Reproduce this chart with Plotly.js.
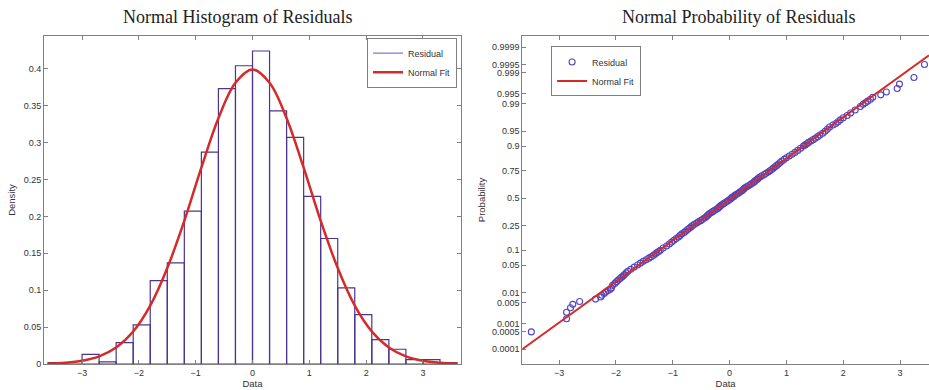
<!DOCTYPE html>
<html>
<head>
<meta charset="utf-8">
<script src="https://cdn.plot.ly/plotly-3.0.1.min.js"></script>
<style>
html,body{margin:0;padding:0;background:#fff;overflow:hidden;}
#chart{width:929px;height:390px;}
</style>
</head>
<body>
<div id="chart"></div>
<script>
// ---- Left panel: histogram of residuals (bin width 0.3) ----
const binCenters = [-3.45,-3.15,-2.85,-2.55,-2.25,-1.95,-1.65,-1.35,-1.05,-0.75,-0.45,-0.15,
                     0.15, 0.45, 0.75, 1.05, 1.35, 1.65, 1.95, 2.25, 2.55, 2.85, 3.15, 3.45];
const density = [0.002,0,0.013,0.003,0.029,0.053,0.113,0.137,0.207,0.287,0.373,0.404,
                 0.424,0.343,0.307,0.227,0.170,0.103,0.067,0.033,0.020,0.006,0.006,0.002];

// Normal fit curve
const curveX = [-3.6,-3.3,-3.0,-2.7,-2.4,-2.1,-1.8,-1.5,-1.2,-0.9,-0.6,-0.3,0,
                 0.3,0.6,0.9,1.2,1.5,1.8,2.1,2.4,2.7,3.0,3.3,3.6];
const curveY = [0.0006,0.0017,0.0044,0.0104,0.0224,0.044,0.079,0.130,0.194,0.266,0.333,0.381,0.399,
                0.381,0.333,0.266,0.194,0.130,0.079,0.044,0.0224,0.0104,0.0044,0.0017,0.0006];

// ---- Right panel: normal probability plot ----
const probX = [-3.49,-2.87,-2.87,-2.80,-2.76,-2.64,-2.36,-2.27,-2.25,-2.21,-2.18,-2.14,-2.10,-2.08,
  -2.06,-2.02,-1.99,-1.96,-1.93,-1.90,-1.87,-1.85,-1.82,-1.79,-1.74,-1.68,-1.62,-1.57,-1.52,-1.47,
  -1.42,-1.38,-1.34,-1.31,-1.28,-1.25,-1.22,-1.17,-1.11,-1.06,-1.02,-0.98,-0.94,-0.90,-0.87,-0.84,
  -0.80,-0.77,-0.74,-0.71,-0.68,-0.65,-0.62,-0.58,-0.55,-0.51,-0.48,-0.45,-0.42,-0.40,-0.38,-0.36,
  -0.33,-0.30,-0.27,-0.24,-0.21,-0.19,-0.17,-0.15,-0.12,-0.10,-0.07,-0.04,-0.02,0.01,0.03,
  0.05,0.08,0.10,0.13,0.16,0.18,0.21,0.23,0.25,0.27,0.30,0.33,0.36,0.39,0.42,0.44,0.46,0.49,0.51,
  0.54,0.57,0.61,0.64,0.68,0.71,0.74,0.77,0.80,0.83,0.86,0.89,0.92,0.96,1.00,1.05,1.10,1.15,1.20,
  1.25,1.30,1.33,1.36,1.39,1.43,1.47,1.51,1.55,1.59,1.64,1.68,1.72,1.76,1.82,1.87,1.91,1.95,2.00,
  2.07,2.13,2.21,2.30,
  2.35,2.39,2.43,2.48,2.52,2.66,2.76,2.95,2.99,3.245,3.43];
const probP = [0.0005,0.0015,0.0025,0.0035,0.0045,0.0055,0.0065,0.0075,0.0085,0.0095,0.0105,0.0115,0.0125,0.0135,
  0.016,0.018,0.020,0.022,0.024,0.026,0.028,0.030,0.033,0.036,0.040,0.045,0.050,0.055,0.060,0.065,
  0.070,0.075,0.080,0.085,0.090,0.095,0.10,0.11,0.12,0.13,0.14,0.15,0.16,0.17,0.18,0.19,
  0.20,0.21,0.22,0.23,0.24,0.25,0.26,0.27,0.28,0.29,0.30,0.31,0.32,0.33,0.34,0.35,
  0.36,0.37,0.38,0.39,0.40,0.41,0.42,0.43,0.44,0.45,0.46,0.47,0.48,0.49,0.50,
  0.51,0.52,0.53,0.54,0.55,0.56,0.57,0.58,0.59,0.60,0.61,0.62,0.63,0.64,0.65,0.66,0.67,0.68,0.69,
  0.70,0.71,0.72,0.73,0.74,0.75,0.76,0.77,0.78,0.79,0.80,0.81,0.82,0.83,0.84,0.85,0.86,0.87,0.88,
  0.89,0.90,0.905,0.91,0.915,0.92,0.925,0.93,0.935,0.94,0.945,0.95,0.955,0.96,0.964,0.967,0.97,0.973,0.976,
  0.979,0.982,0.985,0.988,
  0.9895,0.9905,0.9915,0.9925,0.9935,0.9945,0.9955,0.9965,0.9975,0.9985,0.9995];

// Normal fit (mean, sd) and the x extent of its line
const fitMu = 0.03, fitSigma = 0.99;
const fitLineX = [-3.65, 3.51];

const probTicks = [0.0001,0.0005,0.001,0.005,0.01,0.05,0.1,0.25,0.5,0.75,0.9,0.95,0.99,0.995,0.999,0.9995,0.9999];
const probTickText = ['0.0001','0.0005','0.001','0.005','0.01','0.05','0.1','0.25','0.5','0.75','0.9','0.95','0.99','0.995','0.999','0.9995','0.9999'];

// inverse normal CDF: the probability-axis scale (Acklam)
function norminv(p){
  const a=[-3.969683028665376e+01,2.209460984245205e+02,-2.759285104469687e+02,1.383577518672690e+02,-3.066479806614716e+01,2.506628277459239e+00];
  const b=[-5.447609879822406e+01,1.615858368580409e+02,-1.556989798598866e+02,6.680131188771972e+01,-1.328068155288572e+01];
  const c=[-7.784894002430293e-03,-3.223964580411365e-01,-2.400758277161838e+00,-2.549671010469670e+00,4.374664141464968e+00,2.938163982698783e+00];
  const d=[7.784695709041462e-03,3.224671290700398e-01,2.445134137142996e+00,3.754408661907416e+00];
  const pl=0.02425;
  let q,r;
  if(p<pl){q=Math.sqrt(-2*Math.log(p));
    return (((((c[0]*q+c[1])*q+c[2])*q+c[3])*q+c[4])*q+c[5])/((((d[0]*q+d[1])*q+d[2])*q+d[3])*q+1);}
  if(p<=1-pl){q=p-0.5;r=q*q;
    return (((((a[0]*r+a[1])*r+a[2])*r+a[3])*r+a[4])*r+a[5])*q/(((((b[0]*r+b[1])*r+b[2])*r+b[3])*r+b[4])*r+1);}
  q=Math.sqrt(-2*Math.log(1-p));
  return -(((((c[0]*q+c[1])*q+c[2])*q+c[3])*q+c[4])*q+c[5])/((((d[0]*q+d[1])*q+d[2])*q+d[3])*q+1);
}

const PURPLE = '#4b3590';
const CIRCLE = '#5044c0';
const RED = '#d42a2a';
const FRAME = '#808080';
const SANS = 'Liberation Sans, Arial, sans-serif';
const SERIF = 'Liberation Serif, Times New Roman, serif';

const traces = [
  {type:'bar', x:binCenters, y:density, width:0.3, xaxis:'x', yaxis:'y',
   marker:{color:'rgba(255,255,255,0)', line:{color:PURPLE, width:1.2}},
   showlegend:false, hoverinfo:'x+y'},
  {type:'scatter', mode:'lines', x:[null], y:[null], xaxis:'x', yaxis:'y',
   name:'Residual', line:{color:'#6a55c0', width:1}, legend:'legend'},
  {type:'scatter', mode:'lines', x:curveX, y:curveY, xaxis:'x', yaxis:'y',
   name:'Normal Fit', line:{color:RED, width:2.5, shape:'spline'}, legend:'legend'},
  {type:'scatter', mode:'markers', x:probX, y:probP.map(norminv), xaxis:'x2', yaxis:'y2',
   name:'Residual', marker:{symbol:'circle-open', size:6, color:CIRCLE, line:{width:1.1}},
   legend:'legend2', customdata:probP, hovertemplate:'%{x}, %{customdata}<extra></extra>'},
  {type:'scatter', mode:'lines', x:fitLineX, y:fitLineX.map(v=>(v-fitMu)/fitSigma), xaxis:'x2', yaxis:'y2',
   name:'Normal Fit', line:{color:RED, width:2}, legend:'legend2'}
];

const axisCommon = {ticks:'inside', ticklen:4, tickwidth:1, tickcolor:FRAME, showline:true,
  linecolor:FRAME, linewidth:1, showgrid:false, zeroline:false,
  tickfont:{family:SANS, size:9, color:'#333'}};

const layout = {
  width:929, height:390,
  margin:{l:44, r:0, t:36, b:26},
  paper_bgcolor:'#fff', plot_bgcolor:'#fff',
  font:{family:SANS, color:'#333'},
  barmode:'overlay',
  xaxis:Object.assign({}, axisCommon, {domain:[0,0.4712], range:[-3.67,3.67], tickvals:[-3,-2,-1,0,1,2,3],
    mirror:'ticks', anchor:'y',
    title:{text:'Data', font:{family:SANS, size:9.5, color:'#333'}, standoff:2}}),
  yaxis:Object.assign({}, axisCommon, {domain:[0,1], range:[0,0.4443], tick0:0, dtick:0.05,
    mirror:'ticks', anchor:'x',
    title:{text:'Density', font:{family:SANS, size:9.5, color:'#333'}, standoff:6}}),
  xaxis2:Object.assign({}, axisCommon, {domain:[0.5404,1], range:[-3.65,3.51], tickvals:[-3,-2,-1,0,1,2,3],
    mirror:'ticks', anchor:'y2',
    title:{text:'Data', font:{family:SANS, size:9.5, color:'#333'}, standoff:2}}),
  yaxis2:Object.assign({}, axisCommon, {domain:[0,1], range:[-4.08,3.99],
    tickvals:probTicks.map(norminv), ticktext:probTickText,
    mirror:false, anchor:'x2',
    title:{text:'Probability', font:{family:SANS, size:9.5, color:'#333'}, standoff:4}}),
  legend:{x:0.365, y:0.995, xanchor:'left', yanchor:'top', bgcolor:'#fff',
    bordercolor:FRAME, borderwidth:1, font:{family:SANS, size:9, color:'#333'}, tracegroupgap:0},
  legend2:{x:0.573, y:0.968, xanchor:'left', yanchor:'top', bgcolor:'#fff',
    bordercolor:FRAME, borderwidth:1, font:{family:SANS, size:9, color:'#333'}, tracegroupgap:0},
  annotations:[
    {text:'Normal Histogram of Residuals', xref:'paper', yref:'paper', x:0.2192, y:1.058,
     xanchor:'center', yanchor:'middle', showarrow:false, font:{family:SERIF, size:18, color:'#222'}},
    {text:'Normal Probability of Residuals', xref:'paper', yref:'paper', x:0.785, y:1.058,
     xanchor:'center', yanchor:'middle', showarrow:false, font:{family:SERIF, size:18, color:'#222'}}
  ]
};

Plotly.newPlot('chart', traces, layout, {displayModeBar:false, staticPlot:true});
</script>
</body>
</html>
